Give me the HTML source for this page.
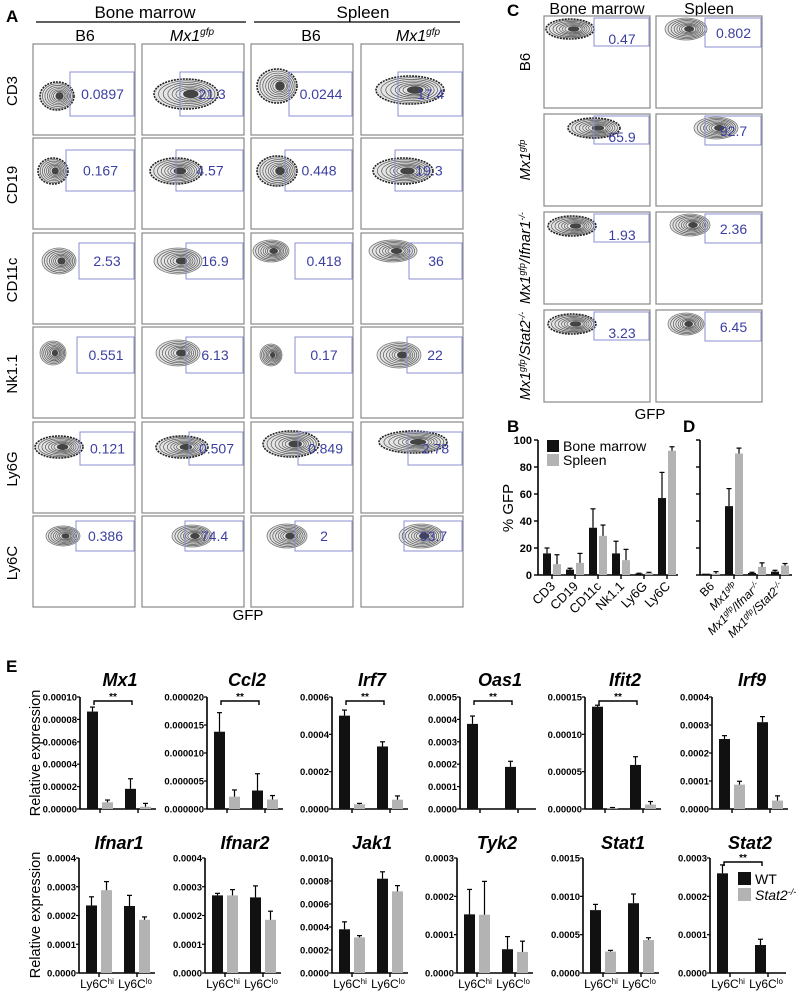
<!DOCTYPE html>
<html><head><meta charset="utf-8"><style>
body{margin:0;background:#fff}
svg{display:block;font-family:"Liberation Sans",Arial,sans-serif}
</style></head><body>
<svg id="fig" width="800" height="996" viewBox="0 0 800 996" xmlns="http://www.w3.org/2000/svg">
<g id="static">
<text x="6" y="22" font-size="17" font-weight="bold">A</text>
<text x="145" y="18" font-size="17" text-anchor="middle">Bone marrow</text>
<line x1="36" y1="22" x2="246" y2="22" stroke="#000" stroke-width="1.3"/>
<text x="363" y="18" font-size="17" text-anchor="middle">Spleen</text>
<line x1="254" y1="22" x2="460" y2="22" stroke="#000" stroke-width="1.3"/>
<text x="85" y="41" font-size="16" text-anchor="middle">B6</text>
<text x="192" y="41" font-size="16" text-anchor="middle" font-style="italic">Mx1<tspan font-size="10" dy="-6">gfp</tspan></text>
<text x="311" y="41" font-size="16" text-anchor="middle">B6</text>
<text x="418" y="41" font-size="16" text-anchor="middle" font-style="italic">Mx1<tspan font-size="10" dy="-6">gfp</tspan></text>
<text x="248" y="620" font-size="15" text-anchor="middle">GFP</text>
<text x="507" y="16" font-size="17" font-weight="bold">C</text>
<text x="597" y="14" font-size="16" text-anchor="middle">Bone marrow</text>
<text x="709" y="14" font-size="16" text-anchor="middle">Spleen</text>
<text x="650" y="419" font-size="15" text-anchor="middle">GFP</text>
<text x="507" y="432" font-size="17" font-weight="bold">B</text>
<text x="683" y="432" font-size="17" font-weight="bold">D</text>
<text transform="translate(513,508) rotate(-90)" font-size="15" text-anchor="middle">% GFP</text>
<text x="6" y="672" font-size="17" font-weight="bold">E</text>
<text transform="translate(40,753) rotate(-90)" font-size="14.5" text-anchor="middle">Relative expression</text>
<text transform="translate(40,915) rotate(-90)" font-size="14.5" text-anchor="middle">Relative expression</text>
</g>
<g id="dyn"></g>
</svg>
<script>
// ===== Panel A data =====
const aRows = ["CD3","CD19","CD11c","Nk1.1","Ly6G","Ly6C"];
const aValues = [["0.0897","21.3","0.0244","17.4"],["0.167","4.57","0.448","19.3"],["2.53","16.9","0.418","36"],["0.551","6.13","0.17","22"],["0.121","0.507","0.849","2.78"],["0.386","74.4","2","93.7"]];
// ===== Panel C data =====
const cRows = ["B6","Mx1gfp","Mx1gfp/Ifnar1-/-","Mx1gfp/Stat2-/-"];
const cValues = [["0.47","0.802"],["65.9","92.7"],["1.93","2.36"],["3.23","6.45"]];
// ===== Panel B data =====
const bCats = ["CD3","CD19","CD11c","Nk1.1","Ly6G","Ly6C"];
const bBM = [16,4,35,16,1,57];
const bBMerr = [4,1,14,9,0.3,19];
const bSp = [8,9,29,11,1.5,92];
const bSperr = [7,7,8,8,0.5,3];
const bTicks = [0,20,40,60,80,100];
// ===== Panel D data =====
const dCats = ["B6","Mx1gfp","Mx1gfp/Ifnar-/-","Mx1gfp/Stat2-/-"];
const dBM = [1,51,1.5,2.5];
const dBMerr = [0,13,0.5,1];
const dSp = [1,90,6,7];
const dSperr = [1.5,4,3,1.5];
// ===== Panel E data =====
const eGenes = ["Mx1","Ccl2","Irf7","Oas1","Ifit2","Irf9","Ifnar1","Ifnar2","Jak1","Tyk2","Stat1","Stat2"];
const eWT = [[8.7e-5,1.8e-5],[1.38e-5,0.33e-5],[5.0e-4,3.35e-4],[3.8e-4,1.88e-4],[1.37e-4,0.59e-4],[2.5e-4,3.1e-4],[2.35e-4,2.33e-4],[2.7e-4,2.63e-4],[3.8e-4,8.2e-4],[1.53e-4,0.62e-4],[8.2e-4,9.1e-4],[2.6e-4,0.73e-4]];
const eWTerr = [[0.4e-5,0.9e-5],[0.34e-5,0.3e-5],[0.3e-4,0.25e-4],[0.35e-4,0.25e-4],[0.02e-4,0.11e-4],[0.12e-4,0.2e-4],[0.3e-4,0.37e-4],[0.07e-4,0.4e-4],[0.65e-4,0.6e-4],[0.65e-4,0.33e-4],[0.75e-4,1.2e-4],[0.22e-4,0.15e-4]];
const eKO = [[0.6e-5,0.2e-5],[0.22e-5,0.17e-5],[0.25e-4,0.5e-4],[0,0],[0.01e-4,0.06e-4],[0.87e-4,0.3e-4],[2.88e-4,1.85e-4],[2.7e-4,1.85e-4],[3.1e-4,7.1e-4],[1.52e-4,0.55e-4],[2.8e-4,4.3e-4],[0,0]];
const eKOerr = [[0.2e-5,0.3e-5],[0.12e-5,0.07e-5],[0.05e-4,0.2e-4],[0,0],[0.01e-4,0.04e-4],[0.12e-4,0.17e-4],[0.3e-4,0.1e-4],[0.2e-4,0.3e-4],[0.15e-4,0.5e-4],[0.87e-4,0.28e-4],[0.15e-4,0.3e-4],[0,0]];
const eMax = [0.0001,0.00002,0.0006,0.0005,0.00015,0.0004,0.0004,0.0004,0.001,0.0003,0.0015,0.0003];
const eTickLabels = [["0.00000","0.00002","0.00004","0.00006","0.00008","0.00010"],["0.000000","0.000005","0.000010","0.000015","0.000020"],["0.0000","0.0002","0.0004","0.0006"],["0.0000","0.0001","0.0002","0.0003","0.0004","0.0005"],["0.00000","0.00005","0.00010","0.00015"],["0.0000","0.0001","0.0002","0.0003","0.0004"],["0.0000","0.0001","0.0002","0.0003","0.0004"],["0.0000","0.0001","0.0002","0.0003","0.0004"],["0.0000","0.0002","0.0004","0.0006","0.0008","0.0010"],["0.0000","0.0001","0.0002","0.0003"],["0.0000","0.0005","0.0010","0.0015"],["0.0000","0.0001","0.0002","0.0003"]];
const eSig = [true,true,true,true,true,false,false,false,false,false,false,true];
const eGroups = ["Ly6C","Ly6C"];
const eGroupSup = ["hi","lo"];

const NS="http://www.w3.org/2000/svg";
const root=document.getElementById('dyn');
function mk(tag,attrs,parent){const e=document.createElementNS(NS,tag);for(const k in attrs)e.setAttribute(k,attrs[k]);(parent||root).appendChild(e);return e;}
function txt(x,y,s,size,extra,parent){const t=mk('text',Object.assign({x:x,y:y,'font-size':size},extra||{}),parent);t.textContent=s;return t;}

function blob(cx,cy,rx,ry,dark){
  const g=mk('g',{});
  
  
  mk('ellipse',{cx:cx,cy:cy,rx:rx,ry:ry,fill:'#e4e4e4',stroke:dark?'#222':'#777','stroke-width':dark?1.6:0.8,'stroke-dasharray':dark?'2 1':'none'},g);
  [0.88,0.76,0.64,0.53,0.43,0.34].forEach(s=>mk('ellipse',{cx:cx+(1-s)*rx*0.2,cy:cy,rx:rx*s,ry:ry*s,fill:'none',stroke:'#555','stroke-width':0.7},g));
  mk('ellipse',{cx:cx+rx*0.15,cy:cy,rx:rx*0.24,ry:ry*0.28,fill:'#444'},g);
}

// ---- Panel A ----
const aColX=[33,142,251,361], aRowY=[44,138,233,327,422,516], aW=102, aH=91;
const aGate=[[28,72],[12,53],[10,46],[10,46],[10,43],[5,35]];
const aGateX=[[37,38,38,37],[33,34,34,34],[46,44,44,48],[44,44,44,46],[47,47,47,47],[43,43,44,43]];
const aBlob=[[[20,52,17,14],[40,50,32,15],[22,42,20,17],[45,46,34,14]],[[16,33,15,13],[30,33,26,13],[22,33,20,15],[38,33,30,13]],[[22,28,17,13],[32,28,24,13],[16,18,18,11],[28,18,24,11]],[[16,26,13,12],[32,26,22,13],[16,28,11,11],[34,28,22,13]],[[22,25,24,11],[36,25,26,11],[36,22,28,13],[48,20,34,11]],[[26,20,17,10],[46,20,20,11],[32,20,20,12],[56,20,22,12]]];
aRows.forEach((r,ri)=>{
  const y=aRowY[ri];
  const lab=txt(17,y+47,r,15,{'text-anchor':'middle',transform:`rotate(-90 17 ${y+47})`});
  
  
  aColX.forEach((x,ci)=>{
    const f=mk('rect',{x:x,y:y,width:aW,height:aH,fill:'#fff',stroke:'#888','stroke-width':1.2});
    
    
    const b=aBlob[ri][ci]; blob(x+b[0]+4,y+b[1],b[2],b[3],ri<2||ri==4);
    const gx=x+aGateX[ri][ci];
    const gr=mk('rect',{x:gx,y:y+aGate[ri][0],width:x+aW-1-gx,height:aGate[ri][1]-aGate[ri][0],fill:'none',stroke:'#8a8fd0','stroke-width':1});
    
    
    const v=txt(gx+(x+aW-gx)/2,y+(aGate[ri][0]+aGate[ri][1])/2+5,aValues[ri][ci],14,{'text-anchor':'middle',fill:'#3b3fa0'});
    
    
  });
});

// ---- Panel C ----
const cColX=[544,656], cRowY=[16,114,212,310], cW=106, cH=92;
const cGX=[50,49], cGate=[[2,30],[2,31]];
const cBlob=[[[26,13,24,10],[30,13,21,11]],[[50,14,26,10],[60,14,22,11]],[[28,14,24,10],[34,13,20,11]],[[28,14,24,10],[30,14,18,11]]];
cRows.forEach((r,ri)=>{
  const y=cRowY[ri];
  const cx=530, cy=y+46;
  const t=mk('text',{x:cx,y:cy,'font-size':15,'text-anchor':'middle',transform:`rotate(-90 ${cx} ${cy})`,'font-style':ri?'italic':'normal'});
  
  
  if(ri==0){t.textContent='B6';}
  else{
    const p=mk('tspan',{},t);p.textContent='Mx1';
    const s=mk('tspan',{'font-size':9,dy:-5},t);s.textContent='gfp';
    if(ri>1){const q=mk('tspan',{dy:5},t);q.textContent=ri==2?'/Ifnar1':'/Stat2';const w=mk('tspan',{'font-size':9,dy:-5},t);w.textContent='-/-';}
  }
  cColX.forEach((x,ci)=>{
    const f=mk('rect',{x:x,y:y,width:cW,height:cH,fill:'#fff',stroke:'#888','stroke-width':1.2});
    
    
    const b=cBlob[ri][ci]; blob(x+b[0],y+b[1],b[2],b[3],ci==0);
    const gx=x+cGX[ci];
    const gr=mk('rect',{x:gx,y:y+cGate[ci][0],width:x+cW-1-gx,height:cGate[ci][1]-cGate[ci][0],fill:'none',stroke:'#8a8fd0','stroke-width':1});
    
    
    const v=txt(gx+(x+cW-gx)/2,y+(ci?22:28),cValues[ri][ci],14,{'text-anchor':'middle',fill:'#3b3fa0'});
    
    
  });
});

// ---- Panel B & D ----
const bTop=440,bBot=575;
const by=v=>bBot-(v/100)*(bBot-bTop);
function barErr(x,w,v,e,fill,yfn,name){
  const r=mk('rect',{x:x,y:yfn(v),width:w,height:Math.max(0,yfn(0)-yfn(v)),fill:fill});
  
  
  if(e>0){const xc=x+w/2;mk('line',{x1:xc,x2:xc,y1:yfn(v),y2:yfn(v+e),stroke:'#000','stroke-width':1.2});mk('line',{x1:xc-2.5,x2:xc+2.5,y1:yfn(v+e),y2:yfn(v+e),stroke:'#000','stroke-width':1.2});}
}
function axisB(x0,x1,ticks){
  mk('line',{x1:x0,x2:x0,y1:bTop,y2:bBot,stroke:'#000','stroke-width':1.6});
  mk('line',{x1:x0,x2:x1,y1:bBot,y2:bBot,stroke:'#000','stroke-width':1.6});
  [0,20,40,60,80,100].forEach(t=>mk('line',{x1:x0-4,x2:x0,y1:by(t),y2:by(t),stroke:'#000','stroke-width':1.4}));
  if(ticks) ticks.forEach(t=>{const l=txt(x0-6,by(t)+4,String(t),11,{'text-anchor':'end','font-weight':'bold'});});
}
axisB(538,678,bTicks);
bCats.forEach((c,i)=>{
  const cx=552+i*23;
  barErr(cx-9,8,bBM[i],bBMerr[i],'#111',by,'b-bar-bm-'+c.toLowerCase());
  barErr(cx+1,8,bSp[i],bSperr[i],'#b3b3b3',by,'b-bar-sp-'+c.toLowerCase());
  mk('line',{x1:cx,x2:cx,y1:bBot,y2:bBot+4,stroke:'#000','stroke-width':1.4});
  const t=txt(cx+4,bBot+12,c,13,{'text-anchor':'end',transform:`rotate(-45 ${cx+4} ${bBot+12})`});
  
  
});
const lg1=mk('rect',{x:547,y:440,width:12,height:12,fill:'#111'});
const lg2=mk('rect',{x:547,y:454,width:12,height:12,fill:'#b3b3b3'});
const lt1=txt(563,451,'Bone marrow',14);
const lt2=txt(563,465,'Spleen',14);
axisB(700,792,null);
dCats.forEach((c,i)=>{
  const cx=711+i*23;
  barErr(cx-9,8,dBM[i],dBMerr[i],'#111',by,'d-bar-bm');
  barErr(cx+1,8,dSp[i],dSperr[i],'#b3b3b3',by,'d-bar-sp');
  mk('line',{x1:cx,x2:cx,y1:bBot,y2:bBot+4,stroke:'#000','stroke-width':1.4});
  const t=mk('text',{x:cx+4,y:bBot+12,'font-size':12,'text-anchor':'end',transform:`rotate(-45 ${cx+4} ${bBot+12})`,'font-style':i?'italic':'normal'});
  
  
  if(i==0)t.textContent='B6';else{const a=mk('tspan',{},t);a.textContent='Mx1';const s=mk('tspan',{'font-size':8,dy:-4},t);s.textContent='gfp';if(i>1){const q=mk('tspan',{dy:4},t);q.textContent=i==2?'/Ifnar':'/Stat2';const w=mk('tspan',{'font-size':8,dy:-4},t);w.textContent='-/-';}}
});

// ---- Panel E ----
const eX=[80,207,332,460,585,712,79,205,332,457,583,710];
eGenes.forEach((g,gi)=>{
  const x0=eX[gi], top=gi<6?697:858, bot=gi<6?809:973, w=76;
  const yf=v=>bot-(v/eMax[gi])*(bot-top);
  const t=txt(x0+40,top-(gi<6?11:9),g,18,{'text-anchor':'middle','font-style':'italic','font-weight':'bold'});
  
  
  mk('line',{x1:x0,x2:x0,y1:top,y2:bot,stroke:'#000','stroke-width':1.6});
  mk('line',{x1:x0,x2:x0+w,y1:bot,y2:bot,stroke:'#000','stroke-width':1.6});
  const labs=eTickLabels[gi], n=labs.length-1;
  labs.forEach((l,k)=>{
    const yy=bot-k/n*(bot-top);
    mk('line',{x1:x0-3,x2:x0,y1:yy,y2:yy,stroke:'#000','stroke-width':1.2});
    const tl=txt(x0-3,yy+3.5,l,9.5,{'text-anchor':'end','font-weight':'bold'});
    
    
  });
  [0,1].forEach(j=>{
    const cx=x0+20+j*38;
    barErr(cx-13,11,eWT[gi][j],eWTerr[gi][j],'#111',yf,'e-bar-wt-'+g.toLowerCase());
    barErr(cx+2,11,eKO[gi][j],eKOerr[gi][j],'#b3b3b3',yf,'e-bar-ko-'+g.toLowerCase());
    mk('line',{x1:cx,x2:cx,y1:bot,y2:bot+4,stroke:'#000','stroke-width':1.4});
    if(gi>=6){const xl=mk('text',{x:cx-2,y:bot+15,'font-size':12,'text-anchor':'middle'});const a=mk('tspan',{},xl);a.textContent=eGroups[j];const s=mk('tspan',{'font-size':8,dy:-4},xl);s.textContent=eGroupSup[j];}
  });
  if(eSig[gi]){
    const x1=x0+14,x2=x0+52,yy=top+4;
    const br=mk('path',{d:`M${x1} ${yy+4}V${yy}H${x2}V${yy+4}`,fill:'none',stroke:'#000','stroke-width':1.4});
    
    
    const st=txt((x1+x2)/2,yy-1,'**',10,{'text-anchor':'middle','font-weight':'bold'});
    
    
  }
});
const sw1=mk('rect',{x:738,y:872,width:13,height:13,fill:'#111'});
const sw2=mk('rect',{x:738,y:888,width:13,height:13,fill:'#b3b3b3'});
const w1=txt(755,884,'WT',14);
const w2=mk('text',{x:755,y:900,'font-size':14,'font-style':'italic'});
const w2a=mk('tspan',{},w2);w2a.textContent='Stat2';const w2b=mk('tspan',{'font-size':9,dy:-5},w2);w2b.textContent='-/-';
</script>
</body></html>
